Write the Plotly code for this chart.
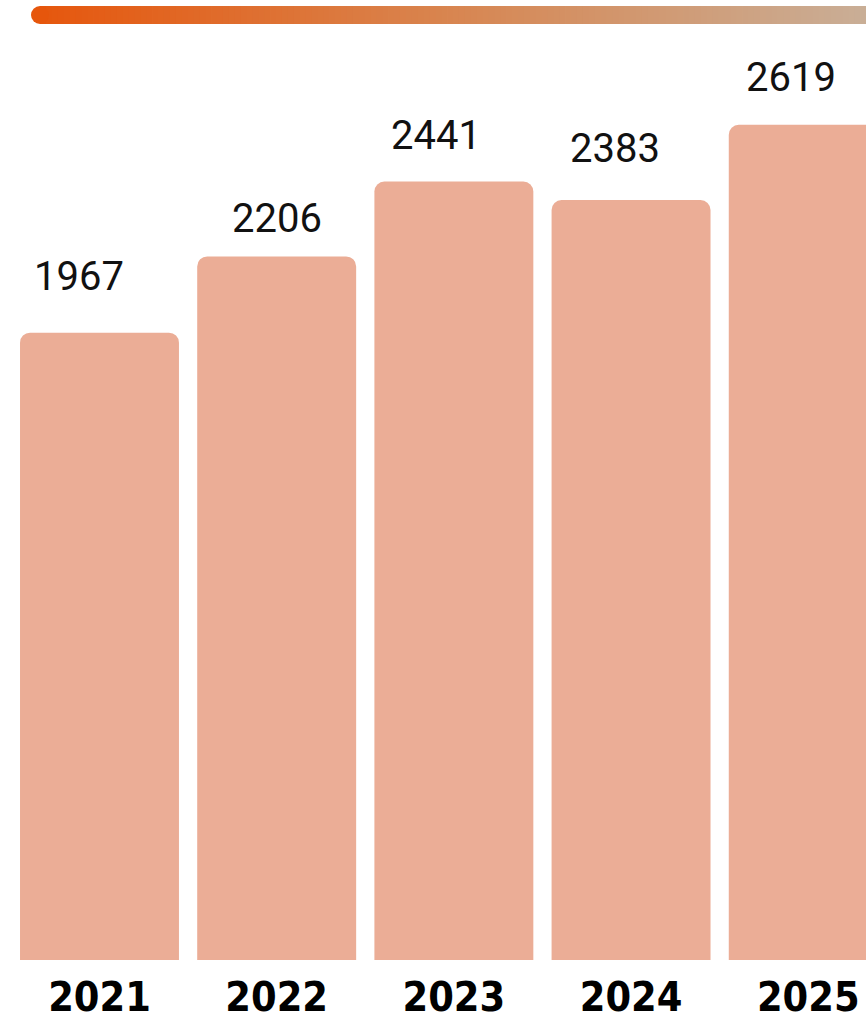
import numpy as np
import plotly.graph_objects as go

# Yearly totals
years = ["2021", "2022", "2023", "2024", "2025"]
totals = [1967, 2206, 2441, 2383, 2619]

# Per-label nudges for the value annotations (pixels)
label_dx = [-20, 0, -18, -16, -17]
label_dy = [56, 38, 46, 51, 47]

BAR_COLOR = "#EBAD96"
W, H = 866, 1021
PLOT_H = 960

fig = go.Figure()

fig.add_trace(go.Bar(
    x=years, y=totals,
    marker=dict(color=BAR_COLOR, cornerradius=10, line=dict(width=0)),
    hoverinfo="skip",
))


def mix(c0, c1, t):
    return tuple(round(a + (b - a) * t) for a, b in zip(c0, c1))


# Decorative gradient rule along the top, built from thin pixel-sized strips
grad_stops = [(0.0, (230, 86, 12)), (0.5, (216, 133, 80)), (1.0, (201, 174, 150))]
r, y_top, y_bot, x_start = 9, 6, 24, 31
n_strips = 140
edges = np.linspace(x_start + r, W, n_strips + 1)
shapes = []
for a, b in zip(edges[:-1], edges[1:]):
    t = ((a + b) / 2 - x_start) / (W - x_start)
    for (t0, c0), (t1, c1) in zip(grad_stops[:-1], grad_stops[1:]):
        if t0 <= t <= t1:
            rgb = mix(c0, c1, (t - t0) / (t1 - t0))
            break
    shapes.append(dict(
        type="rect", xref="paper", yref="paper",
        xsizemode="pixel", ysizemode="pixel", xanchor=0, yanchor=1,
        x0=a, x1=b + 0.8, y0=-y_top, y1=-y_bot,
        fillcolor="rgb(%d,%d,%d)" % rgb, line=dict(width=0), layer="above",
    ))
shapes.append(dict(
    type="circle", xref="paper", yref="paper",
    xsizemode="pixel", ysizemode="pixel", xanchor=0, yanchor=1,
    x0=x_start, x1=x_start + 2 * r, y0=-y_top, y1=-y_bot,
    fillcolor="rgb(%d,%d,%d)" % grad_stops[0][1], line=dict(width=0), layer="above",
))

# Value labels above each bar
annotations = []
for i, (v, dx, dy) in enumerate(zip(totals, label_dx, label_dy)):
    annotations.append(dict(
        x=i, y=v, xref="x", yref="y", text=str(v), showarrow=False,
        xanchor="center", yanchor="middle", xshift=dx, yshift=dy,
        font=dict(family="Roboto", size=40, color="#111111"),
    ))

fig.update_layout(
    width=W, height=H,
    margin=dict(l=0, r=0, t=0, b=H - PLOT_H, autoexpand=False),
    paper_bgcolor="white", plot_bgcolor="white",
    showlegend=False, bargap=0.103,
    xaxis=dict(
        type="category", range=[-0.5615, 4.326],
        showgrid=False, zeroline=False, showline=False,
        ticks="", ticklabelstandoff=9, automargin=False,
        tickfont=dict(family="DejaVu Sans Condensed, Roboto, sans-serif", size=41,
                      color="#000000", weight="bold"),
    ),
    yaxis=dict(range=[0, 3010], showticklabels=False, ticks="",
               showgrid=False, zeroline=False, showline=False),
    annotations=annotations,
    shapes=shapes,
)

fig.write_html("out.html")
